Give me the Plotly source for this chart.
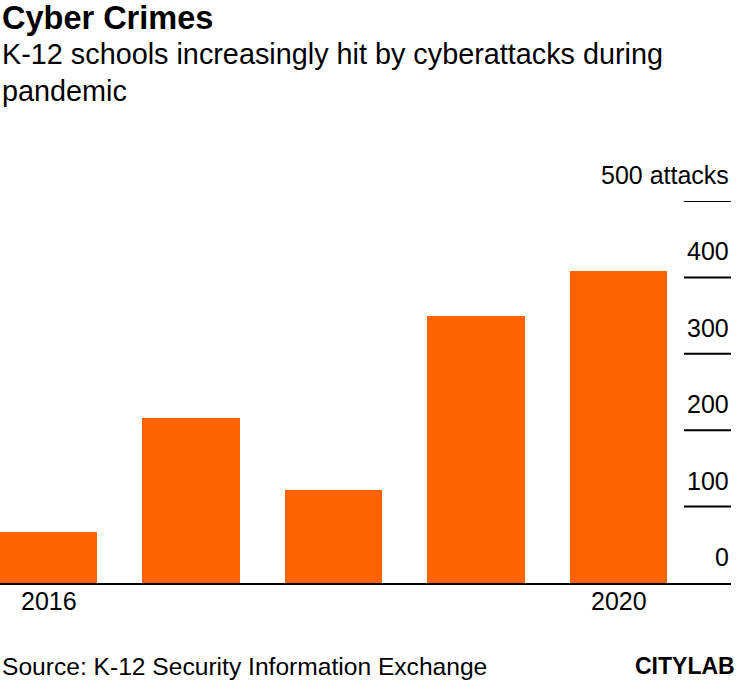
import plotly.graph_objects as go

years = [2016, 2017, 2018, 2019, 2020]
attacks = [67, 216, 122, 349, 409]
tick_years = [2016, 2020]
tick_labels = ["2016", "2020"]
y_ticks = [0, 100, 200, 300, 400, 500]
y_labels = ["0", "100", "200", "300", "400", "500 attacks"]

W, H = 750, 682
L, R, T, B = 0, 19, 201, 99
PH = H - T - B
PW = W - L - R

def py(px):
    return (H - B - px) / PH

def pxx(px):
    return (px - L) / PW

FONT = "Liberation Sans, Arial, sans-serif"
ORANGE = "#ff6300"

fig = go.Figure()
fig.add_trace(go.Bar(
    x=years, y=attacks, width=0.681,
    marker=dict(color=ORANGE, line=dict(width=0)),
    hoverinfo="skip",
))

shapes = []
for v in y_ticks[1:]:
    shapes.append(dict(type="line", xref="paper", yref="y",
                       x0=pxx(684), x1=1, y0=v, y1=v,
                       line=dict(color="black", width=2)))

annotations = []
for v, t in zip(y_ticks, y_labels):
    annotations.append(dict(text=t, xref="paper", yref="y", x=1, y=v,
                            xanchor="right", yanchor="middle", yshift=26,
                            showarrow=False,
                            font=dict(family=FONT, size=25, color="black")))

for yr, t in zip(tick_years, tick_labels):
    annotations.append(dict(text=t, xref="x", yref="paper", x=yr, y=py(601),
                            xanchor="center", yanchor="middle", showarrow=False,
                            font=dict(family=FONT, size=25, color="black")))

annotations += [
    dict(text="<b>Cyber Crimes</b>", xref="paper", yref="paper",
         x=pxx(0), y=py(18), xanchor="left", yanchor="middle", showarrow=False,
         font=dict(family=FONT, size=32.5, color="black")),
    dict(text="K-12 schools increasingly hit by cyberattacks during", xref="paper", yref="paper",
         x=pxx(0), y=py(54), xanchor="left", yanchor="middle", showarrow=False,
         font=dict(family=FONT, size=28.8, color="black")),
    dict(text="pandemic", xref="paper", yref="paper",
         x=pxx(0), y=py(91), xanchor="left", yanchor="middle", showarrow=False,
         font=dict(family=FONT, size=28.8, color="black")),
    dict(text="Source: K-12 Security Information Exchange", xref="paper", yref="paper",
         x=pxx(0), y=py(666), xanchor="left", yanchor="middle", showarrow=False,
         font=dict(family=FONT, size=24.6, color="black")),
    dict(text="<b>CITYLAB</b>", xref="paper", yref="paper",
         x=pxx(737), y=py(666), xanchor="right", yanchor="middle", showarrow=False,
         font=dict(family=FONT, size=23, color="black")),
]

fig.update_layout(
    width=W, height=H,
    margin=dict(l=L, r=R, t=T, b=B, pad=0),
    paper_bgcolor="white", plot_bgcolor="white",
    showlegend=False,
    bargap=0,
    shapes=shapes,
    annotations=annotations,
    xaxis=dict(range=[2015.6596, 2020.7894], tickvals=tick_years, showticklabels=False,
               showgrid=False, zeroline=False, showline=True, linecolor="black", linewidth=2,
               ticks="", fixedrange=True),
    yaxis=dict(range=[0, 500], showgrid=False, zeroline=False, showticklabels=False,
               showline=False, ticks="", fixedrange=True),
)

fig.write_html("out.html", config={"displayModeBar": False},
               post_script="document.body.style.margin='0px';document.body.style.padding='0px';")
